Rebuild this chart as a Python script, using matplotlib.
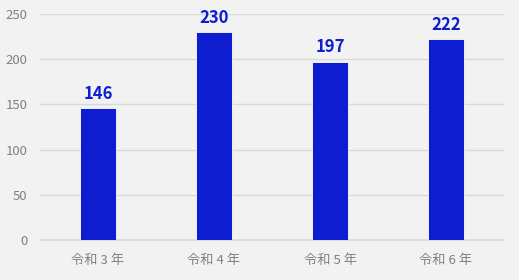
import matplotlib
matplotlib.use('Agg')
import matplotlib.pyplot as plt

plt.rcParams['font.family'] = ['Noto Sans CJK JP', 'DejaVu Sans']

categories = ['令和 3 年', '令和 4 年', '令和 5 年', '令和 6 年']
values = [146, 230, 197, 222]
yticks = [0, 50, 100, 150, 200, 250]

bg = '#f2f2f2'
bar_color = '#0d1dcf'

fig = plt.figure(figsize=(5.19, 2.80), dpi=100, facecolor=bg)
ax = fig.add_axes([40 / 519, 1 - 240 / 280, 464 / 519, 226 / 280])
ax.set_facecolor(bg)

x = range(len(categories))
bars = ax.bar(x, values, width=0.31, color=bar_color, edgecolor='white', linewidth=0.6, zorder=3)

# value labels above each bar
for b, v in zip(bars, values):
    ax.text(b.get_x() + b.get_width() / 2, v + 6, str(v), ha='center', va='bottom',
            fontsize=12, fontweight='bold', color=bar_color, zorder=4)

ax.set_xlim(-0.5, len(categories) - 0.5)
ax.set_ylim(0, 250)
ax.set_yticks(yticks)
ax.set_xticks(list(x))
ax.set_xticklabels(categories)
ax.grid(axis='y', color='#d9d9d9', linewidth=1, zorder=0)
ax.axhline(0, color='#d9d9d9', linewidth=1.2, zorder=1, clip_on=False)
for s in ax.spines.values():
    s.set_visible(False)
ax.tick_params(length=0, labelsize=9.5, labelcolor='#808080')
ax.tick_params(axis='x', pad=10)
ax.tick_params(axis='y', pad=9)

fig.savefig('out.png', dpi=100, facecolor=bg)
